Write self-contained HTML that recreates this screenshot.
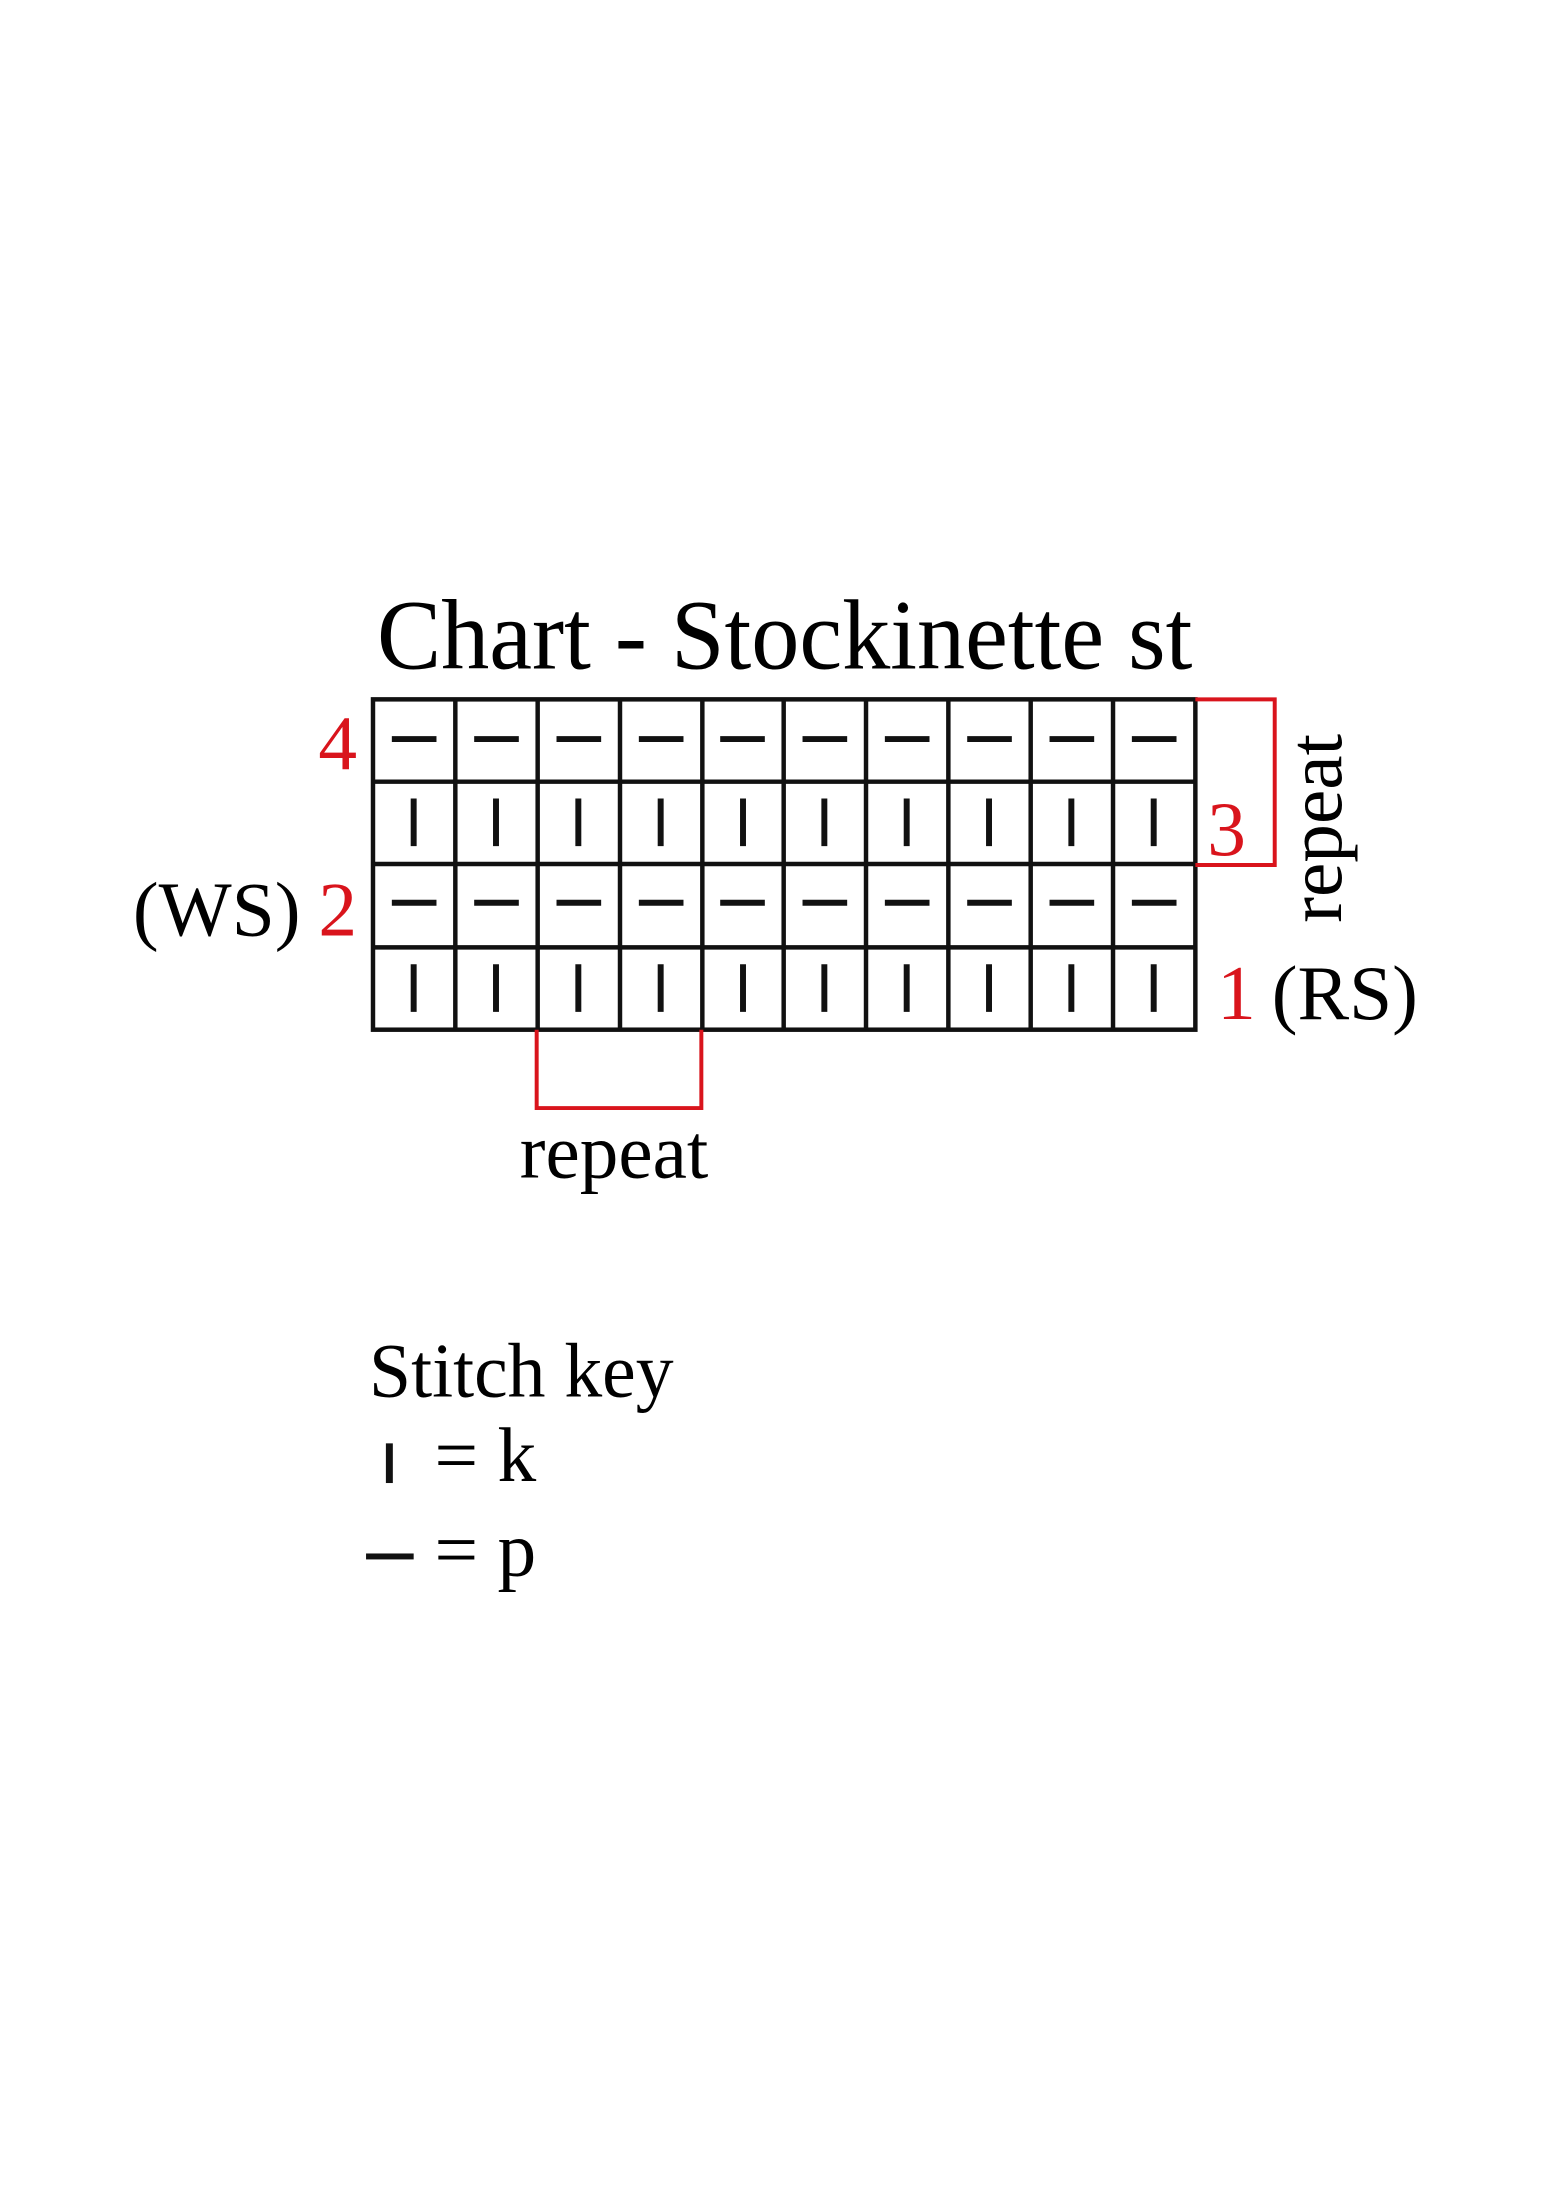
<!DOCTYPE html>
<html><head><meta charset="utf-8"><style>
html,body{margin:0;padding:0;background:#fff}
svg{display:block}
text{font-family:"Liberation Serif",serif}
</style></head><body>
<svg width="1550" height="2192" viewBox="0 0 1550 2192" xmlns="http://www.w3.org/2000/svg">
<rect width="1550" height="2192" fill="#fff"/>
<g transform="scale(0.992)">
<text x="380" y="674" font-size="100" textLength="822" lengthAdjust="spacingAndGlyphs">Chart - Stockinette st</text>
<g stroke="#111" stroke-width="4.5" fill="none">
<rect x="376" y="705" width="829" height="333"/>
<line x1="376" y1="788" x2="1205" y2="788"/>
<line x1="376" y1="871" x2="1205" y2="871"/>
<line x1="376" y1="955" x2="1205" y2="955"/>
<line x1="459" y1="705" x2="459" y2="1038"/>
<line x1="542" y1="705" x2="542" y2="1038"/>
<line x1="625" y1="705" x2="625" y2="1038"/>
<line x1="708" y1="705" x2="708" y2="1038"/>
<line x1="790" y1="705" x2="790" y2="1038"/>
<line x1="873" y1="705" x2="873" y2="1038"/>
<line x1="956" y1="705" x2="956" y2="1038"/>
<line x1="1039" y1="705" x2="1039" y2="1038"/>
<line x1="1122" y1="705" x2="1122" y2="1038"/>
</g>
<g stroke="#111" stroke-width="6">
<g id="pr">
<line x1="395" y1="745" x2="440" y2="745"/><line x1="478" y1="745" x2="523" y2="745"/><line x1="561" y1="745" x2="606" y2="745"/><line x1="644" y1="745" x2="689" y2="745"/><line x1="726" y1="745" x2="771" y2="745"/><line x1="809" y1="745" x2="854" y2="745"/><line x1="892" y1="745" x2="937" y2="745"/><line x1="975" y1="745" x2="1020" y2="745"/><line x1="1058" y1="745" x2="1103" y2="745"/><line x1="1141" y1="745" x2="1186" y2="745"/>
</g>
<use href="#pr" y="165"/>
<g id="kr">
<line x1="417" y1="805" x2="417" y2="853"/><line x1="500" y1="805" x2="500" y2="853"/><line x1="583" y1="805" x2="583" y2="853"/><line x1="666" y1="805" x2="666" y2="853"/><line x1="749" y1="805" x2="749" y2="853"/><line x1="831" y1="805" x2="831" y2="853"/><line x1="914" y1="805" x2="914" y2="853"/><line x1="997" y1="805" x2="997" y2="853"/><line x1="1080" y1="805" x2="1080" y2="853"/><line x1="1163" y1="805" x2="1163" y2="853"/>
</g>
<use href="#kr" y="167"/>
</g>
<g stroke="#d9141c" stroke-width="4" fill="none">
<polyline points="1205,705 1285,705 1285,872 1205,872"/>
<polyline points="541,1038 541,1117 707,1117 707,1038"/>
</g>
<g font-size="78">
<text x="321" y="775" fill="#d9141c">4</text>
<text x="1217" y="862" fill="#d9141c">3</text>
<text x="134" y="943">(WS)</text>
<text x="321" y="943" fill="#d9141c">2</text>
<text x="1227" y="1027" fill="#d9141c">1</text>
<text x="1282" y="1027">(RS)</text>
<text x="1352" y="835" text-anchor="middle" transform="rotate(-90 1352 835)">repeat</text>
<text x="524" y="1187" textLength="190" lengthAdjust="spacingAndGlyphs">repeat</text>
<text x="372" y="1408" textLength="307" lengthAdjust="spacingAndGlyphs">Stitch key</text>
<text x="438" y="1493">= k</text>
<text x="438" y="1588">= p</text>
</g>
<rect x="389" y="1455" width="7" height="40" fill="#111"/>
<rect x="369" y="1566" width="48" height="6" fill="#111"/>
</g>
</svg>
</body></html>
